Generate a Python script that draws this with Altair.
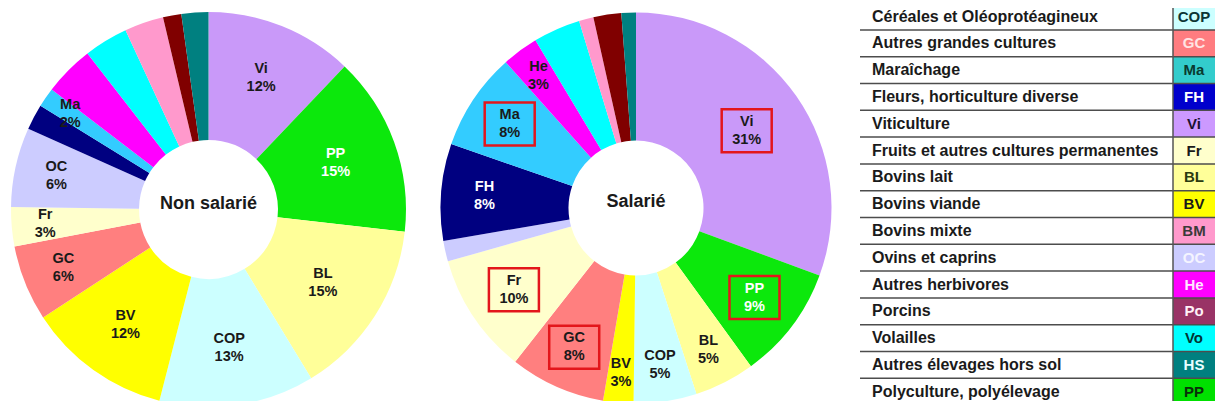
import altair as alt
import pandas as pd

# ---- pie data (clockwise from 12 o'clock) ----
codes = ["Vi", "PP", "BL", "COP", "BV", "GC", "Fr", "OC", "FH", "Ma", "He", "Vo", "BM", "Po", "HS"]
non_salarie = [12.1, 14.7, 14.5, 12.7, 11.8, 6.2, 3.2, 6.5, 2.1, 1.6, 4.1, 3.6, 3.2, 1.5, 2.2]
salarie = [30.6, 9.4, 5.0, 5.2, 2.5, 7.9, 10.0, 1.7, 8.0, 8.1, 3.0, 3.9, 1.2, 2.3, 1.2]
non_salarie_pct = ["12%", "15%", "15%", "13%", "12%", "6%", "3%", "6%", "", "2%", "", "", "", "", ""]
salarie_pct = ["31%", "9%", "5%", "5%", "3%", "8%", "10%", "", "8%", "8%", "3%", "", "", "", ""]
pie_colors = ["#c999f9", "#0ce80c", "#ffff99", "#ccffff", "#ffff00", "#ff7f7f", "#ffffcc",
              "#ccccff", "#000080", "#33ccff", "#ff00ff", "#00ffff", "#ff99cc", "#800000", "#008080"]
highlighted = ["Vi", "PP", "Ma", "Fr", "GC"]
pie_titles = ["Non salarié", "Salarié"]

# ---- legend table ----
legend_names = ["Céréales et Oléoprotéagineux", "Autres grandes cultures", "Maraîchage",
                "Fleurs, horticulture diverse", "Viticulture", "Fruits et autres cultures permanentes",
                "Bovins lait", "Bovins viande", "Bovins mixte", "Ovins et caprins", "Autres herbivores",
                "Porcins", "Volailles", "Autres élevages hors sol", "Polyculture, polyélevage"]
legend_codes = ["COP", "GC", "Ma", "FH", "Vi", "Fr", "BL", "BV", "BM", "OC", "He", "Po", "Vo", "HS", "PP"]
legend_colors = ["#ccffff", "#ff7c80", "#33cccc", "#0000cc", "#cc99ff", "#ffffcc", "#ffff99", "#ffff00",
                 "#ff99cc", "#ccccff", "#ff00ff", "#993366", "#00ffff", "#008080", "#00e000"]
legend_text_colors = ["#0b3535", "#ffe4e4", "#0a3a30", "#ffffff", "#1a1030", "#1a1a1a", "#2a3a10", "#1a1a1a",
                      "#3a3a3a", "#f4f4ff", "#ffe8ff", "#fff0f6", "#003535", "#e8ffff", "#0a300a"]

FONT = "Liberation Sans"

rows = []
for pie, vals, pcts in (("ns", non_salarie, non_salarie_pct), ("s", salarie, salarie_pct)):
    for i, (c, v, p) in enumerate(zip(codes, vals, pcts)):
        rows.append(dict(pie=pie, idx=i, code=c, value=v, pct=p,
                         label=(c + "\n" + p) if p else ""))
df = pd.DataFrame(rows)

df_leg = pd.DataFrame(dict(i=list(range(len(legend_codes))), name=legend_names, code=legend_codes,
                           fillc=legend_colors, tc=legend_text_colors))


def pie_layers(pie, title, cx, cy, ro, ri, boxes):
    base = (alt.Chart(df)
            .transform_filter(alt.datum.pie == pie)
            .transform_joinaggregate(total="sum(value)")
            .transform_window(cum="sum(value)", sort=[alt.SortField("idx", order="ascending")],
                              frame=[None, 0])
            .transform_calculate(t1="2*PI*datum.cum/datum.total")
            .transform_calculate(t0="2*PI*(datum.cum - datum.value)/datum.total")
            .transform_calculate(tm="(datum.t0 + datum.t1)/2"))
    arc = base.mark_arc(innerRadius=ri, outerRadius=ro).encode(
        x=alt.value(cx), y=alt.value(cy),
        theta=alt.Theta("t0:Q", scale=None), theta2=alt.Theta2("t1:Q"),
        color=alt.Color("code:N", scale=alt.Scale(domain=codes, range=pie_colors), legend=None),
    )
    lab = (base.transform_filter("datum.pct != ''")
           .transform_calculate(r="max(135, 172 - 2.5*datum.value)")
           .transform_calculate(lx=f"{cx} + datum.r*sin(datum.tm)")
           .transform_calculate(ly=f"{cy} - datum.r*cos(datum.tm)")
           .transform_calculate(tc="indexof(['PP','FH'], datum.code) >= 0 ? '#ffffff' : '#1a1a1a'"))
    text = lab.mark_text(font=FONT, fontSize=14.5, fontWeight="bold", lineBreak="\n", lineHeight=18,
                         align="center", baseline="middle", dy=-9).encode(
        x=alt.X("lx:Q", scale=None, axis=None), y=alt.Y("ly:Q", scale=None, axis=None),
        text="label:N", color=alt.Color("tc:N", scale=None),
    )
    ttl = alt.Chart(pd.DataFrame({"t": [title]})).mark_text(
        font=FONT, fontSize=18, fontWeight="bold", color="#1a1a1a", align="center", baseline="middle"
    ).encode(x=alt.value(cx), y=alt.value(cy - 6), text="t:N")
    layers = [arc, text, ttl]
    if boxes:
        box = (lab.transform_filter(alt.FieldOneOfPredicate(field="code", oneOf=highlighted))
               .transform_calculate(bx0="datum.lx - 25", bx1="datum.lx + 25",
                                    by0="datum.ly - 21.5", by1="datum.ly + 21.5")
               .mark_rect(fillOpacity=0, stroke="#e3161b", strokeWidth=2.5)
               .encode(x=alt.X("bx0:Q", scale=None, axis=None), x2="bx1:Q",
                       y=alt.Y("by0:Q", scale=None, axis=None), y2="by1:Q"))
        layers.append(box)
    return layers


left = pie_layers("ns", pie_titles[0], 200.5, 201.5, 197.5, 69.5, False)
right = pie_layers("s", pie_titles[1], 628, 200, 195.5, 67.5, True)

PITCH = 26.8
Y0 = 8.5
leg = alt.Chart(df_leg).transform_calculate(
    yc=f"{Y0} + {PITCH}*datum.i", yt=f"{Y0} + {PITCH}*datum.i - {PITCH/2}",
    yb=f"{Y0} + {PITCH}*datum.i + {PITCH/2}")

cells = leg.mark_rect().encode(
    x=alt.value(1165), x2=alt.value(1207),
    y=alt.Y("yt:Q", scale=None, axis=None), y2="yb:Q",
    fill=alt.Fill("fillc:N", scale=None),
)
names = leg.mark_text(font=FONT, fontSize=16, fontWeight="bold", color="#1a1a1a",
                      align="left", baseline="middle").encode(
    x=alt.value(864), y=alt.Y("yc:Q", scale=None, axis=None), text="name:N")
code_txt = leg.mark_text(font=FONT, fontSize=15, fontWeight="bold",
                         align="center", baseline="middle").encode(
    x=alt.value(1186), y=alt.Y("yc:Q", scale=None, axis=None), text="code:N",
    color=alt.Color("tc:N", scale=None))
hlines = leg.mark_rule(color="#4d4d4d", strokeWidth=1.5).encode(
    x=alt.value(852), x2=alt.value(1207), y=alt.Y("yb:Q", scale=None, axis=None))
vline = leg.transform_filter("datum.i == 0").mark_rule(color="#555555", strokeWidth=1.5).encode(
    x=alt.value(1165), y=alt.value(0), y2=alt.value(393))

chart = alt.layer(*left, *right, cells, names, code_txt, hlines, vline).properties(
    width=1207, height=393, autosize=alt.AutoSizeParams(type="none"), padding=0,
    background="white",
).resolve_scale(color="independent").configure_view(strokeWidth=0)

chart.save("out.html", embed_options={"renderer": "svg", "actions": False})
